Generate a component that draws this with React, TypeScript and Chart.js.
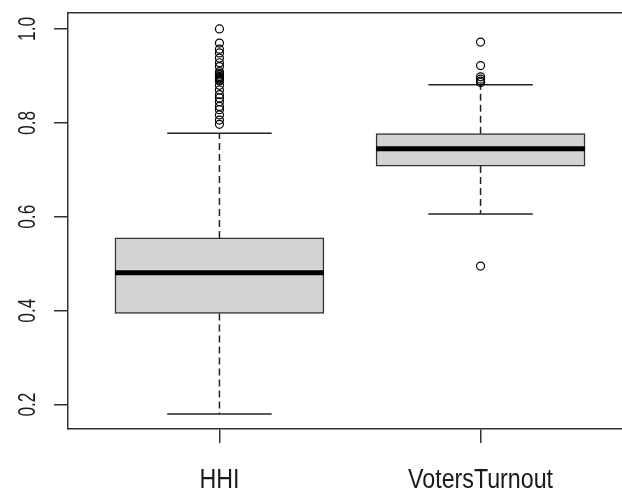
import React, { useEffect, useRef } from "react";
import { Chart, registerables } from "chart.js";

Chart.register(...registerables);

const categories = ["HHI", "VotersTurnout"];
const positions = [1, 2];
const lowerWhisker = [0.18, 0.606];
const q1 = [0.394, 0.708];
const median = [0.481, 0.745];
const q3 = [0.555, 0.777];
const upperWhisker = [0.778, 0.881];
const hhiOutliers = [
  1.0, 0.97, 0.957, 0.949, 0.938, 0.928, 0.92, 0.909, 0.905, 0.902, 0.899, 0.897, 0.895,
  0.893, 0.891, 0.889, 0.88, 0.87, 0.86, 0.853, 0.845, 0.835, 0.828, 0.817, 0.806, 0.797,
];
const votersOutliers = [0.972, 0.922, 0.898, 0.893, 0.889, 0.886, 0.495];
const outliers = [hhiOutliers, votersOutliers];
const yTicks = [0.2, 0.4, 0.6, 0.8, 1.0];
const yTickLabels = ["0.2", "0.4", "0.6", "0.8", "1.0"];

const BOX_HALF = 0.4;
const CAP_HALF = 0.2;
const LINE = "#222222";
const FRAME = "#333333";

const labelPlugin = {
  id: "rLabels",
  afterDraw(chart: any) {
    const ctx = chart.ctx;
    const xs = chart.scales.x;
    const ys = chart.scales.y;
    ctx.save();
    ctx.fillStyle = "#1a1a1a";
    ctx.textAlign = "center";
    ctx.textBaseline = "alphabetic";
    ctx.font = '27px "Liberation Sans", Arial, sans-serif';
    categories.forEach((c, i) => {
      const px = xs.getPixelForValue(positions[i]);
      ctx.save();
      ctx.translate(px, xs.top + 58.5);
      ctx.scale(0.86, 1);
      ctx.fillText(c, 0, 0);
      ctx.restore();
    });
    ctx.font = '24px "Liberation Sans", Arial, sans-serif';
    yTicks.forEach((v, i) => {
      const py = ys.getPixelForValue(v);
      ctx.save();
      ctx.translate(ys.right - 33.5, py);
      ctx.rotate(-Math.PI / 2);
      ctx.scale(0.72, 1);
      ctx.fillText(yTickLabels[i], 0, 0);
      ctx.restore();
    });
    ctx.restore();
  },
};

export default function App() {
  const ref = useRef<HTMLCanvasElement | null>(null);

  useEffect(() => {
    if (!ref.current) return;
    const datasets: any[] = [];

    datasets.push({
      type: "bar",
      data: positions.map((p, i) => ({ x: p, y: [q1[i], q3[i]] })),
      backgroundColor: "#d3d3d3",
      borderColor: FRAME,
      borderWidth: 1.5,
      borderSkipped: false,
      barThickness: 209,
      order: 5,
    });

    positions.forEach((p, i) => {
      datasets.push({
        type: "line",
        data: [
          { x: p, y: q3[i] },
          { x: p, y: upperWhisker[i] },
        ],
        borderColor: LINE,
        borderWidth: 1.5,
        borderDash: [7, 4],
        pointRadius: 0,
        fill: false,
        order: 4,
      });
      datasets.push({
        type: "line",
        data: [
          { x: p, y: q1[i] },
          { x: p, y: lowerWhisker[i] },
        ],
        borderColor: LINE,
        borderWidth: 1.5,
        borderDash: [7, 4],
        pointRadius: 0,
        fill: false,
        order: 4,
      });
      [upperWhisker[i], lowerWhisker[i]].forEach((w) => {
        datasets.push({
          type: "line",
          data: [
            { x: p - CAP_HALF, y: w },
            { x: p + CAP_HALF, y: w },
          ],
          borderColor: LINE,
          borderWidth: 1.5,
          pointRadius: 0,
          fill: false,
          order: 4,
        });
      });
      datasets.push({
        type: "line",
        data: [
          { x: p - BOX_HALF, y: median[i] },
          { x: p + BOX_HALF, y: median[i] },
        ],
        borderColor: "#000000",
        borderWidth: 5,
        borderCapStyle: "butt",
        pointRadius: 0,
        fill: false,
        order: 2,
      });
      datasets.push({
        type: "scatter",
        data: outliers[i].map((v) => ({ x: p, y: v })),
        pointStyle: "circle",
        pointRadius: 4,
        pointBorderWidth: 1.2,
        pointBackgroundColor: "rgba(0,0,0,0)",
        pointBorderColor: "#000000",
        showLine: false,
        order: 1,
      });
    });

    const chart = new Chart(ref.current, {
      type: "line",
      data: { datasets },
      plugins: [labelPlugin],
      options: {
        animation: false,
        responsive: false,
        devicePixelRatio: 1,
        layout: { padding: 0, autoPadding: false },
        plugins: { legend: { display: false }, tooltip: { enabled: false } },
        scales: {
          x: {
            type: "linear",
            position: "bottom",
            min: 0.42,
            max: 2.58,
            offset: false,
            afterBuildTicks: (s: any) => {
              s.ticks = positions.map((v) => ({ value: v }));
            },
            afterFit: (s: any) => {
              s.height = 63;
            },
            ticks: { display: false },
            grid: {
              display: true,
              offset: false,
              drawOnChartArea: false,
              drawTicks: true,
              tickLength: 14,
              color: FRAME,
              lineWidth: 1.5,
            },
            border: { display: true, color: FRAME, width: 1.5 },
          },
          x2: {
            type: "linear",
            position: "top",
            min: 0.42,
            max: 2.58,
            offset: false,
            afterFit: (s: any) => {
              s.height = 13;
            },
            ticks: { display: false },
            grid: { display: false },
            border: { display: true, color: FRAME, width: 1.5 },
          },
          y: {
            type: "linear",
            position: "left",
            min: 0.148,
            max: 1.034,
            afterBuildTicks: (s: any) => {
              s.ticks = yTicks.map((v) => ({ value: v }));
            },
            afterFit: (s: any) => {
              s.width = 68;
            },
            ticks: { display: false },
            grid: {
              display: true,
              drawOnChartArea: false,
              drawTicks: true,
              tickLength: 14,
              color: FRAME,
              lineWidth: 1.5,
            },
            border: { display: true, color: FRAME, width: 1.5 },
          },
        },
      } as any,
    });
    return () => chart.destroy();
  }, []);

  return (
    <div
      style={{
        position: "absolute",
        left: 0,
        top: 0,
        width: 622,
        height: 492,
        overflow: "hidden",
        background: "#ffffff",
      }}
    >
      <canvas ref={ref} width={632} height={492} style={{ display: "block" }} />
    </div>
  );
}
